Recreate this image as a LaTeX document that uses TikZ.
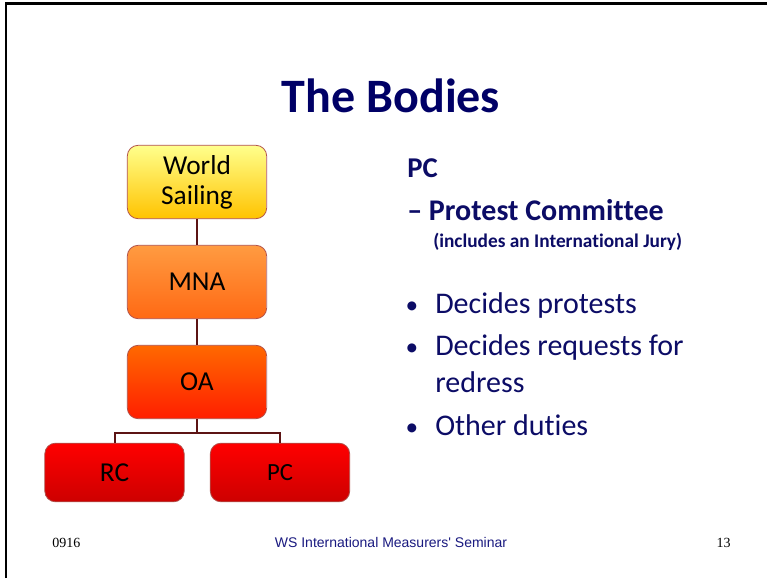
\documentclass[tikz,border=0pt]{standalone}
\usepackage{fontspec}
\setmainfont[Ligatures={NoCommon}]{Carlito}
\newfontfamily\footserif{Liberation Serif}
\newfontfamily\footsans{Liberation Sans}
\usetikzlibrary{positioning}

\definecolor{navy}{HTML}{000066}
\definecolor{textnavy}{HTML}{0C0C66}
\definecolor{footblue}{HTML}{1A1A80}
\definecolor{linkred}{HTML}{5C1414}
\definecolor{edgered}{HTML}{B0504A}

\tikzset{
  body/.style={draw=edgered, line width=0.6pt, rounded corners=8pt,
    minimum width=104.5pt, minimum height=55pt, inner sep=0pt,
    font=\fontsize{20.5}{22.5}\selectfont, align=center, text=black},
  leaf/.style={body, minimum height=44pt,
    top color={rgb,255:red,255;green,0;blue,0}, bottom color={rgb,255:red,205;green,0;blue,0}},
  link/.style={draw=linkred, line width=1.5pt},
  bodytxt/.style={anchor=base west, inner sep=0pt, text=textnavy,
    font=\fontsize{22.5}{24}\selectfont},
  foot/.style={anchor=base, inner sep=0pt, font=\fontsize{10.5}{12}\selectfont}
}

\begin{document}
\begin{tikzpicture}[x=0.75pt, y=-0.75pt]
  \useasboundingbox (0,0) rectangle (767,578);
  \fill[white] (0,0) rectangle (767,578);
  % slide frame
  \draw[line width=2.2pt] (6,578) -- (6,3.3) -- (767,3.3);

  % title
  \node[anchor=base, inner sep=0pt, text=navy,
    font=\fontsize{36}{40}\selectfont\bfseries] (title) at (391,112) {The Bodies};

  % the bodies
  \node[body, top color=yellow!45!white, bottom color={rgb,255:red,255;green,195;blue,0}]
    (ws) at (197,182) {World\\Sailing};
  \node[body, top color={rgb,255:red,255;green,155;blue,65}, bottom color={rgb,255:red,255;green,105;blue,20}]
    (mna) at (197,282) {MNA};
  \node[body, top color={rgb,255:red,255;green,105;blue,0}, bottom color={rgb,255:red,255;green,30;blue,0}]
    (oa) at (197,382) {OA};
  \node[leaf] (rc) at (114.5,472.5) {RC};
  \node[leaf, font=\fontsize{18.5}{20}\selectfont] (pc) at (280,472.5) {PC};
  \coordinate (fork) at (197,433);

  \draw[link] (ws) -- (mna);
  \draw[link] (mna) -- (oa);
  \draw[link] (oa) -- (fork) -| (rc);
  \draw[link] (fork) -| (pc);

  % right column
  \node[bodytxt, font=\fontsize{21.5}{22}\selectfont\bfseries] (pclbl) at (407,177) {PC};
  \node[bodytxt, font=\fontsize{22.5}{24}\selectfont\bfseries] (pcname) at (407,220) {– Protest Committee};
  \node[bodytxt, font=\fontsize{14.5}{16}\selectfont\bfseries] (jury) at (433,247) {(includes an International Jury)};

  \node[bodytxt] (b1) at (435,313) {Decides protests};
  \node[bodytxt] (b2) at (435,355) {Decides requests for};
  \node[bodytxt] (b2b) at (435,392) {redress};
  \node[bodytxt] (b3) at (435,435) {Other duties};
  \foreach \yb in {313,355,435}
    \node[bodytxt, anchor=base, font=\fontsize{19}{20}\selectfont] at (412,\yb) {•};

  % footer
  \node[foot, font=\footserif\fontsize{10.5}{12}\selectfont, anchor=base west] (date) at (52,547) {0916};
  \node[foot, font=\footsans\fontsize{10.5}{12}\selectfont, text=footblue] (event) at (391,547) {WS International Measurers' Seminar};
  \node[foot, font=\footserif\fontsize{10.5}{12}\selectfont, anchor=base east] (page) at (731,547) {13};
\end{tikzpicture}
\end{document}
